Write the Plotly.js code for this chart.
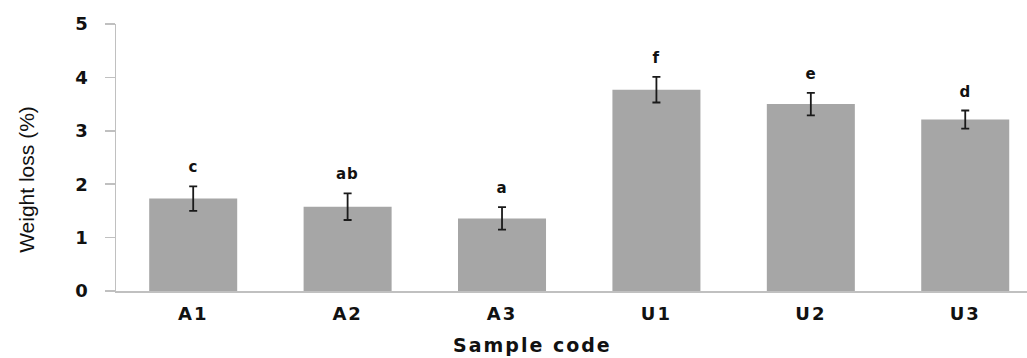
<!DOCTYPE html>
<html>
<head>
<meta charset="utf-8">
<script src="https://cdn.plot.ly/plotly-3.0.1.min.js"></script>
<style>
html,body{margin:0;padding:0;background:#fff;}
#chart{width:1027px;height:358px;}
#chart .xtick text{letter-spacing:2px;}
#chart .annotation-text{letter-spacing:1px;}
#chart .annotation[data-index="0"] .annotation-text{letter-spacing:0px;}
#chart .annotation[data-index="1"] .annotation-text{letter-spacing:2px;}
</style>
</head>
<body>
<div id="chart"></div>
<script>
const categories = ["A1", "A2", "A3", "U1", "U2", "U3"];
const weightLoss = [1.73, 1.58, 1.36, 3.77, 3.50, 3.21];
const errors = [0.23, 0.25, 0.21, 0.24, 0.21, 0.17];
const letters = ["c", "ab", "a", "f", "e", "d"];
const yTickVals = [0, 1, 2, 3, 4, 5];
const xTitle = "Sample code";
const yTitle = "Weight loss (%)";

const boldFont = "DejaVu Sans, Liberation Sans, Arial, sans-serif";

const trace = {
  type: "bar",
  x: categories,
  y: weightLoss,
  marker: {color: "#a6a6a6", line: {width: 0}},
  error_y: {type: "data", array: errors, visible: true, color: "#1a1a1a", thickness: 1.8, width: 4},
  hoverinfo: "none"
};

const annotations = [
  {xref: "paper", yref: "paper", x: -0.0977, y: 0.42, xanchor: "center", yanchor: "middle",
   text: yTitle, textangle: -90, showarrow: false,
   font: {family: "Liberation Sans, Arial, sans-serif", size: 21, color: "#111"}},
  {xref: "paper", yref: "paper", x: 0.457, y: -0.203, xanchor: "center", yanchor: "middle",
   text: xTitle, showarrow: false,
   font: {family: boldFont, size: 19, color: "#111", weight: "bold"}}
].concat(categories.map((c, i) => ({
  x: c, y: weightLoss[i] + errors[i], xref: "x", yref: "y",
  text: letters[i], showarrow: false, yanchor: "bottom", yshift: 8,
  font: {family: boldFont, size: 15, color: "#111", weight: "bold"}
})));

const layout = {
  width: 1027, height: 358,
  margin: {l: 116, r: 0, t: 24, b: 67},
  paper_bgcolor: "#fff", plot_bgcolor: "#fff",
  showlegend: false,
  bargap: 0.43,
  xaxis: {
    type: "category", range: [-0.5, 5.4],
    showline: true, linecolor: "#c0c0c0", linewidth: 1.5,
    ticks: "", showgrid: false, zeroline: false,
    tickfont: {family: boldFont, size: 18, color: "#111", weight: "bold"},
    ticklabelstandoff: 6
  },
  yaxis: {
    range: [0, 5], tickvals: yTickVals,
    showline: true, linecolor: "#c0c0c0", linewidth: 1.5,
    ticks: "outside", ticklen: 10, tickcolor: "#c0c0c0", tickwidth: 1.5,
    showgrid: false, zeroline: false,
    tickfont: {family: boldFont, size: 18, color: "#111", weight: "bold"},
    ticklabelstandoff: 13
  },
  annotations: annotations
};

Plotly.newPlot("chart", [trace], layout, {staticPlot: true, displayModeBar: false});
</script>
</body>
</html>
